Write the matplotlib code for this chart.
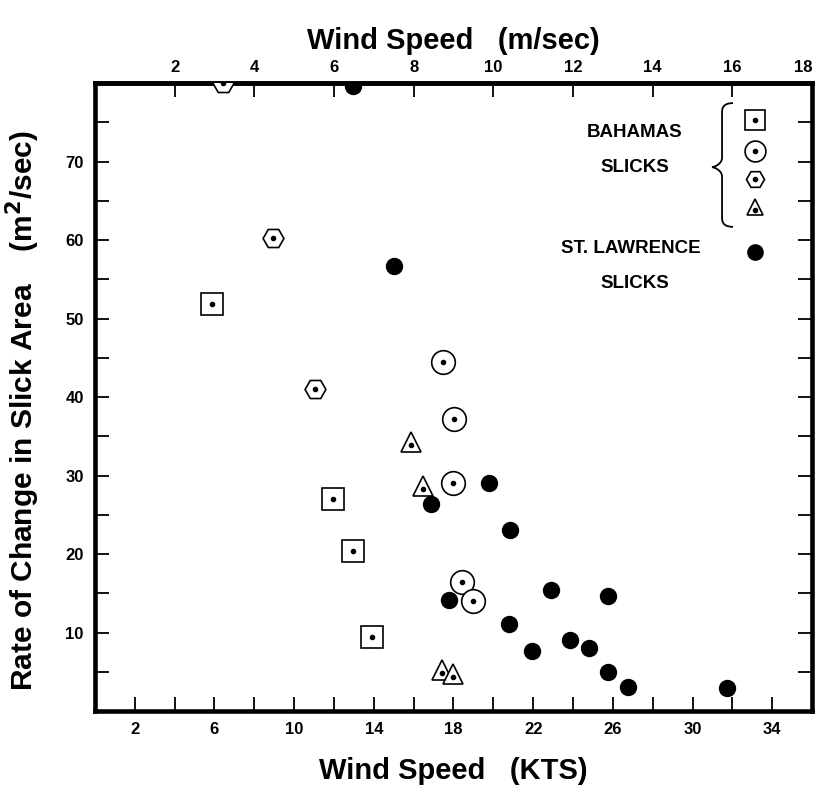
import numpy as np
import matplotlib
matplotlib.use('Agg')
import matplotlib.pyplot as plt
from matplotlib.ticker import MultipleLocator, FixedLocator
from matplotlib.path import Path
from matplotlib.patches import PathPatch

plt.rcParams['font.family'] = ['Liberation Sans', 'DejaVu Sans']
plt.rcParams['font.weight'] = 'bold'

# Bahamas slicks (four sets) and St. Lawrence slicks, wind speed in knots
sq_x = [5.9, 11.95, 12.95, 13.9]
sq_y = [51.8, 27.0, 20.4, 9.4]

ci_x = [17.45, 18.05, 18.0, 18.45, 19.0]
ci_y = [44.5, 37.2, 29.0, 16.5, 14.0]

hx_x = [6.45, 8.95, 11.05]
hx_y = [80.0, 60.2, 41.0]

tr_x = [15.85, 16.45, 17.4, 18.0]
tr_y = [34.3, 28.7, 5.2, 4.7]

sl_x = [12.95, 15.0, 16.85, 19.8, 20.85, 17.75, 22.9, 25.75, 20.8, 21.95, 23.85, 24.8, 25.75, 26.75, 31.75]
sl_y = [79.6, 56.7, 26.4, 29.0, 23.1, 14.1, 15.4, 14.6, 11.1, 7.6, 9.0, 8.0, 5.0, 3.1, 2.9]

fig = plt.figure(figsize=(8.18, 7.99), dpi=100)
ax = fig.add_axes([0.1161, 0.1101, 0.8766, 0.786])
ax.set_xlim(0, 36)
ax.set_ylim(0, 80)

open_kw = dict(linestyle='none', mfc='white', mec='black', mew=1.2, zorder=3)
dot_kw = dict(linestyle='none', marker='o', color='black', markersize=3, zorder=4)

ax.plot(sq_x, sq_y, marker='s', markersize=16, **open_kw)
ax.plot(sq_x, sq_y, **dot_kw)
ax.plot(ci_x, ci_y, marker='o', markersize=17, **open_kw)
ax.plot(ci_x, ci_y, **dot_kw)
ax.plot(hx_x, hx_y, marker='H', markersize=15, **open_kw)
ax.plot(hx_x, hx_y, **dot_kw)
ax.plot(tr_x, tr_y, marker='^', markersize=14, **open_kw)
ax.plot(tr_x, np.array(tr_y) - 0.4, **dot_kw)
ax.plot(sl_x, sl_y, linestyle='none', marker='o', markersize=11.5, color='black', zorder=3)

# legend drawn by hand, like the original figure
lx = 0.921
leg_y = [0.941, 0.892, 0.847, 0.803]
leg_m = [('s', 14), ('o', 15), ('H', 13), ('^', 12)]
for yy, (m, s) in zip(leg_y, leg_m):
    ax.plot([lx], [yy], marker=m, markersize=s, transform=ax.transAxes, **open_kw)
    ax.plot([lx], [yy - (0.005 if m == '^' else 0)], transform=ax.transAxes, **dot_kw)
ax.plot([lx], [0.731], marker='o', markersize=11, color='black',
        transform=ax.transAxes, linestyle='none')

txt_kw = dict(transform=ax.transAxes, ha='center', va='center', fontsize=13.5, fontweight='bold')
ax.text(0.753, 0.922, 'BAHAMAS', **txt_kw)
ax.text(0.753, 0.865, 'SLICKS', **txt_kw)
ax.text(0.747, 0.737, 'ST. LAWRENCE', **txt_kw)
ax.text(0.753, 0.681, 'SLICKS', **txt_kw)

# curly brace
bx_end, bx_mid, bx_tip = 0.8898, 0.8745, 0.8605
by_top, by_mid, by_bot = 0.968, 0.866, 0.771
verts = [(bx_end, by_top), (bx_mid, by_top), (bx_mid, by_top - 0.01), (bx_mid, by_top - 0.015),
         (bx_mid, by_mid + 0.015),
         (bx_mid, by_mid + 0.005), (bx_tip + 0.003, by_mid), (bx_tip, by_mid),
         (bx_tip + 0.003, by_mid), (bx_mid, by_mid - 0.005), (bx_mid, by_mid - 0.015),
         (bx_mid, by_bot + 0.015),
         (bx_mid, by_bot + 0.01), (bx_mid, by_bot), (bx_end, by_bot)]
codes = [Path.MOVETO, Path.CURVE4, Path.CURVE4, Path.CURVE4,
         Path.LINETO,
         Path.CURVE4, Path.CURVE4, Path.CURVE4,
         Path.CURVE4, Path.CURVE4, Path.CURVE4,
         Path.LINETO,
         Path.CURVE4, Path.CURVE4, Path.CURVE4]
ax.add_patch(PathPatch(Path(verts, codes), transform=ax.transAxes, fill=False,
                       lw=1.3, edgecolor='black'))

# axes frame and ticks
for sp in ax.spines.values():
    sp.set_linewidth(3.3)
ax.xaxis.set_major_locator(FixedLocator([2, 6, 10, 14, 18, 22, 26, 30, 34]))
ax.xaxis.set_minor_locator(FixedLocator([4, 8, 12, 16, 20, 24, 28, 32]))
ax.set_yticks([10, 20, 30, 40, 50, 60, 70])
ax.yaxis.set_minor_locator(MultipleLocator(5))
ax.tick_params(which='both', direction='in', width=1.3, length=10, top=False, right=True,
               labelsize=12, pad=8)
for lab in ax.get_xticklabels() + ax.get_yticklabels():
    lab.set_fontweight('bold')

top = ax.secondary_xaxis('top', functions=(lambda k: k / 2.0, lambda m: m * 2.0))
top.set_xticks([2, 4, 6, 8, 10, 12, 14, 16, 18])
top.tick_params(direction='in', length=10, width=1.3, labelsize=12, pad=6)
top.spines['top'].set_linewidth(3.3)
tlabs = top.get_xticklabels()
for lab in tlabs:
    lab.set_fontweight('bold')
tlabs[-1].set_horizontalalignment('right')
top.set_xlabel('Wind Speed   (m/sec)', fontsize=21, fontweight='bold', labelpad=8)

ax.set_xlabel('Wind Speed   (KTS)', fontsize=21, fontweight='bold', labelpad=14)
ax.set_ylabel('Rate of Change in Slick Area    (m$^2$/sec)', fontsize=21.5,
              fontweight='bold')
ax.yaxis.set_label_coords(-0.074, 0.478)

fig.savefig('out.png', dpi=100)
